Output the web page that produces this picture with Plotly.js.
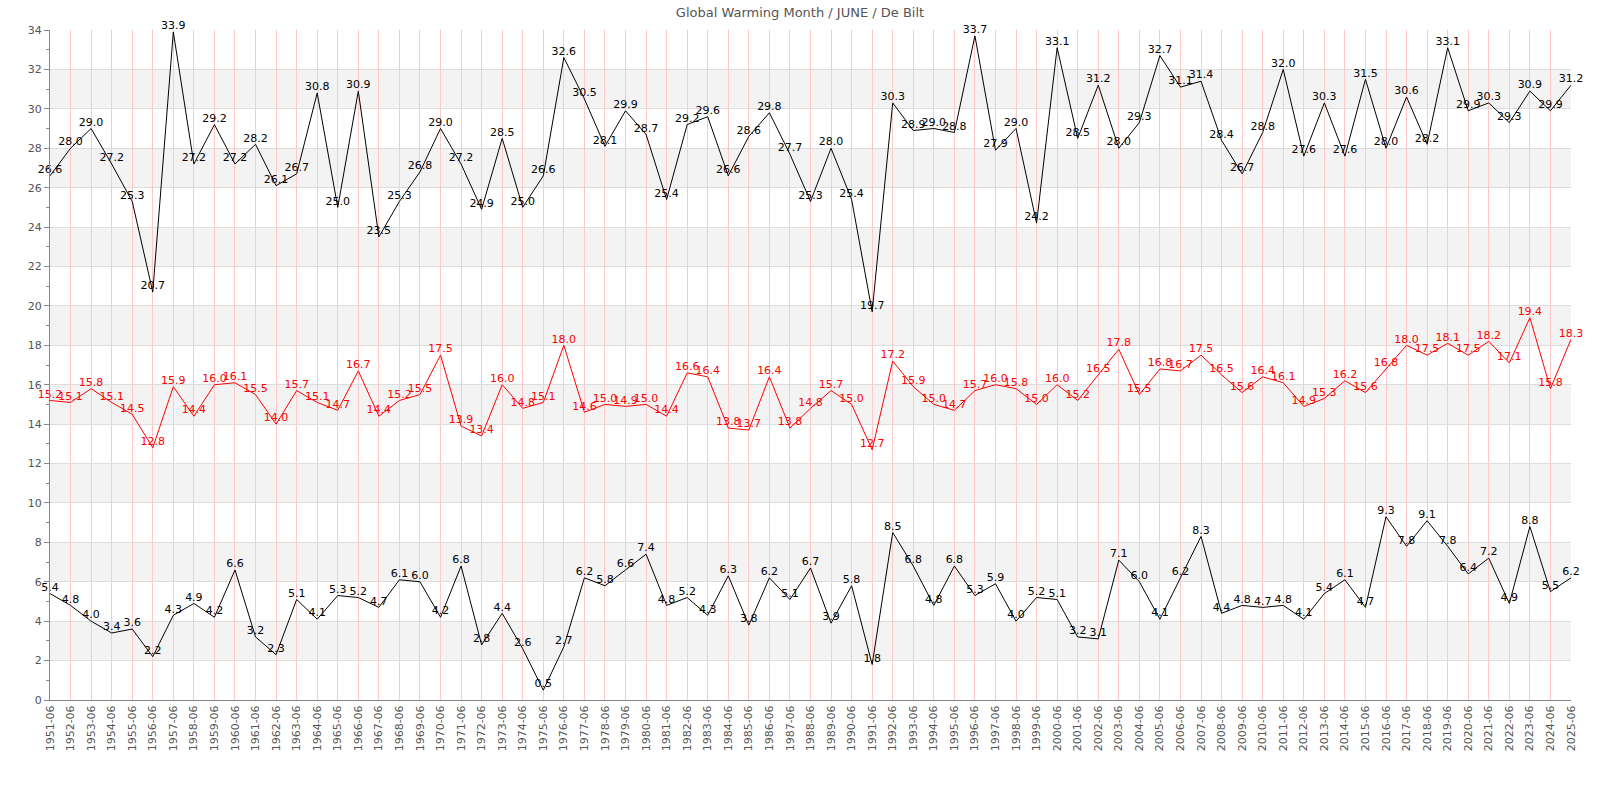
<!DOCTYPE html>
<html>
<head>
<meta charset="utf-8">
<script src="https://cdn.plot.ly/plotly-3.0.1.min.js"></script>
<style>html,body{margin:0;padding:0;background:#fff;}#chart{width:1600px;height:800px;}</style>
</head>
<body>
<div id="chart"></div>
<script>
const years = [];
for (let y = 1951; y <= 2025; y++) years.push(y + "-06");

const maxTemp = [26.6,28.0,29.0,27.2,25.3,20.7,33.9,27.2,29.2,27.2,
  28.2,26.1,26.7,30.8,25.0,30.9,23.5,25.3,26.8,29.0,
  27.2,24.9,28.5,25.0,26.6,32.6,30.5,28.1,29.9,28.7,
  25.4,29.2,29.6,26.6,28.6,29.8,27.7,25.3,28.0,25.4,
  19.7,30.3,28.9,29.0,28.8,33.7,27.9,29.0,24.2,33.1,
  28.5,31.2,28.0,29.3,32.7,31.1,31.4,28.4,26.7,28.8,
  32.0,27.6,30.3,27.6,31.5,28.0,30.6,28.2,33.1,29.9,
  30.3,29.3,30.9,29.9,31.2];

const meanTemp = [15.2,15.1,15.8,15.1,14.5,12.8,15.9,14.4,16.0,16.1,
  15.5,14.0,15.7,15.1,14.7,16.7,14.4,15.2,15.5,17.5,
  13.9,13.4,16.0,14.8,15.1,18.0,14.6,15.0,14.9,15.0,
  14.4,16.6,16.4,13.8,13.7,16.4,13.8,14.8,15.7,15.0,
  12.7,17.2,15.9,15.0,14.7,15.7,16.0,15.8,15.0,16.0,
  15.2,16.5,17.8,15.5,16.8,16.7,17.5,16.5,15.6,16.4,
  16.1,14.9,15.3,16.2,15.6,16.8,18.0,17.5,18.1,17.5,
  18.2,17.1,19.4,15.8,18.3];

const minTemp = [5.4,4.8,4.0,3.4,3.6,2.2,4.3,4.9,4.2,6.6,
  3.2,2.3,5.1,4.1,5.3,5.2,4.7,6.1,6.0,4.2,
  6.8,2.8,4.4,2.6,0.5,2.7,6.2,5.8,6.6,7.4,
  4.8,5.2,4.3,6.3,3.8,6.2,5.1,6.7,3.9,5.8,
  1.8,8.5,6.8,4.8,6.8,5.3,5.9,4.0,5.2,5.1,
  3.2,3.1,7.1,6.0,4.1,6.2,8.3,4.4,4.8,4.7,
  4.8,4.1,5.4,6.1,4.7,9.3,7.8,9.1,7.8,6.4,
  7.2,4.9,8.8,5.5,6.2];

const titleText = "Global Warming Month / JUNE / De Bilt";
const yMin = 0, yMax = 34, yStep = 2;

const FONT = "DejaVu Sans, Verdana, sans-serif";

function series(vals, color) {
  return {
    x: years, y: vals, type: "scatter", mode: "lines+text",
    line: {color: color, width: 1},
    text: vals.map(v => v.toFixed(1)),
    textposition: "top center",
    textfont: {family: FONT, size: 11, color: color},
    cliponaxis: false,
    hoverinfo: "x+y",
    showlegend: false
  };
}

const shapes = [];
for (let y = yMin + yStep; y < yMax; y += 2 * yStep) {
  shapes.push({type: "rect", xref: "paper", yref: "y", x0: 0, x1: 1, y0: y, y1: y + yStep,
    fillcolor: "#f3f3f3", line: {width: 0}, layer: "below"});
}

const layout = {
  width: 1600, height: 800,
  margin: {l: 50, r: 29, t: 30, b: 100, pad: 0},
  paper_bgcolor: "#ffffff", plot_bgcolor: "rgba(0,0,0,0)",
  font: {family: FONT, size: 11, color: "#555"},
  title: {text: titleText, font: {family: FONT, size: 13, color: "#555"},
    x: 0.5, xanchor: "center", y: 0.985, yanchor: "middle", yref: "container"},
  xaxis: {
    type: "category", range: [0, years.length - 1],
    tickangle: -90, tickfont: {family: FONT, size: 11, color: "#555"},
    showgrid: true, gridcolor: "#ffc8c8", gridwidth: 1,
    showline: true, linecolor: "#888", linewidth: 1,
    ticks: "", zeroline: false, automargin: false
  },
  yaxis: {
    range: [yMin, yMax], dtick: yStep, tick0: 0,
    tickfont: {family: FONT, size: 11, color: "#555"},
    showgrid: true, gridcolor: "#dddddd", gridwidth: 1,
    showline: true, linecolor: "#888", linewidth: 1,
    ticks: "outside", ticklen: 5, tickcolor: "#888",
    minor: {dtick: 1, ticks: "outside", ticklen: 3, tickcolor: "#888", showgrid: false},
    zeroline: false, automargin: false
  },
  shapes: shapes
};

Plotly.newPlot("chart", [series(maxTemp, "#000000"), series(meanTemp, "#ff0000"), series(minTemp, "#000000")], layout, {displayModeBar: false, staticPlot: true});
</script>
</body>
</html>
